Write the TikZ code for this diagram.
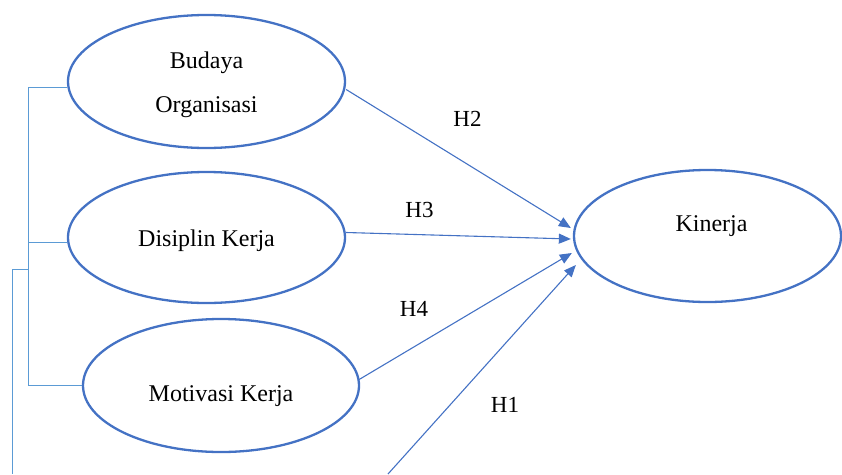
\documentclass[tikz,border=0pt]{standalone}
\usepackage{fontspec}
\setmainfont{Liberation Serif}
\usetikzlibrary{shapes,arrows.meta,positioning,calc}

\definecolor{wordblue}{RGB}{68,114,196}
\definecolor{lineblue}{RGB}{91,155,213}
\newcommand{\vlift}[2]{\raisebox{#1}[0pt][0pt]{#2}}

\begin{document}
\begin{tikzpicture}[
    x=1pt, y=-1pt,
    var/.style={ellipse, draw=wordblue, line width=2.3pt, inner sep=0pt, align=center, font=\fontsize{24}{44}\selectfont},
    hyp/.style={font=\fontsize{23}{28}\selectfont},
    arrow/.style={-{Triangle[length=12pt,width=10pt]}, draw=wordblue, line width=1.1pt},
    link/.style={draw=lineblue, line width=1pt}
]
\useasboundingbox (0,0) rectangle (842,474);

% Variables
\node[var, minimum width=277pt, minimum height=133pt] (bud) at (206.5,81.5) {\vlift{-30.5pt}{\begin{tabular}[b]{@{}c@{}}Budaya\\Organisasi\end{tabular}}};
\node[var, minimum width=277pt, minimum height=131pt] (dis) at (206.5,237.5) {\vlift{-9pt}{Disiplin Kerja}};
\node[var, minimum width=276pt, minimum height=133pt] (mot) at (221,385.5) {\vlift{-15.5pt}{Motivasi Kerja}};
\node[var, minimum width=267pt, minimum height=132pt] (kin) at (707.5,236) {\vlift{4.3pt}{\hspace{8pt}Kinerja}};

% Bracket on the left
\coordinate (spine) at (28,0);
\coordinate (bend) at (28,269);
\coordinate (outer) at (12,474);
\path ([shift={(0,5.5)}]bud.west) coordinate (budin)
      ([shift={(0,4.5)}]dis.west) coordinate (disin);
\draw[link] (budin) -- (budin -| spine) -- (mot.west -| spine) -- (mot.west);
\draw[link] (disin) -- (disin -| spine);
\draw[link] (bend) -| (outer);

% Hypotheses
\coordinate (h1src) at (388,474);
\draw[arrow] ([shift={(0,8)}]bud.east) -- ([shift={(-2,-8)}]kin.west);
\draw[arrow] ([shift={(0,-5)}]dis.east) -- ([shift={(-2,3)}]kin.west);
\draw[arrow] ([shift={(-1,-6)}]mot.east) -- ([shift={(-1,17)}]kin.west);
\draw[arrow] (h1src) -- ([shift={(3,29)}]kin.west);

% Labels
\node[hyp] (h2) at (467.5,119) {H2};
\node[hyp] (h3) at (419.5,209.5) {H3};
\node[hyp] (h4) at (414,308.7) {H4};
\node[hyp] (h1) at (505,404.7) {H1};

\end{tikzpicture}
\end{document}
